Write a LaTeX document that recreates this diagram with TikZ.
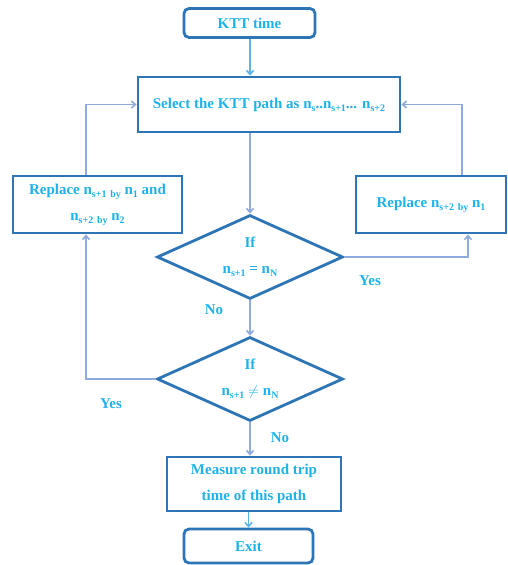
\documentclass[tikz,border=0pt]{standalone}
\usepackage{fontspec}
\setmainfont{Liberation Serif}
\usetikzlibrary{shapes.geometric,arrows.meta}
\definecolor{boxblue}{HTML}{2E75B6}
\definecolor{txtcyan}{HTML}{1FB2EA}
\definecolor{linkblue}{HTML}{8FAADC}
\definecolor{arrcyan}{HTML}{5AB4E6}
% small lowered text used for indices and the word "by"
\newcommand\lowsub[1]{\raisebox{-0.45ex}{\fontsize{10}{10}\selectfont #1}}
\begin{document}
\begin{tikzpicture}[x=1pt,y=-1pt,
  font=\fontsize{15}{26}\selectfont\bfseries, text=txtcyan,
  procbox/.style={draw=boxblue, line width=2.8pt, fill=white, inner sep=0pt, align=center},
  termbox/.style={procbox, rounded corners=5pt},
  decision/.style={diamond, draw=boxblue, line width=2.8pt, fill=white,
    minimum width=186pt, minimum height=84pt, inner sep=0pt},
  link/.style={draw=linkblue, line width=1.6pt},
  cyanlink/.style={draw=arrcyan, line width=1.6pt},
  tip/.style={-{Straight Barb[length=4pt,width=7pt]}},
  lbl/.style={inner sep=0pt, align=center}]
\useasboundingbox (0,0) rectangle (508,565);

% process and terminal boxes
\node[termbox, minimum width=131pt, minimum height=29pt] (start) at (249.5,23) {KTT time};
\node[procbox, minimum width=262pt, minimum height=55pt] (select) at (269,104.5)
  {Select the KTT path as n\lowsub{s}..n\lowsub{s+1}... n\lowsub{s+2}};
\node[procbox, minimum width=169pt, minimum height=57pt] (left) at (97.5,204.5)
  {Replace n\lowsub{s+1} \lowsub{by} n\lowsub{1} and\\ n\lowsub{s+2} \lowsub{by} n\lowsub{2}};
\node[procbox, minimum width=150pt, minimum height=57pt] (right) at (431,204.5)
  {Replace n\lowsub{s+2} \lowsub{by} n\lowsub{1}};

% decisions: outline and its two-line question
\node[decision] (d1) at (250,257) {};
\node[lbl] (q1) at (d1.center) {If\\ n\lowsub{s+1} = n\lowsub{N}};
\node[decision] (d2) at (250,379) {};
\node[lbl] (q2) at (d2.center) {If\\ n\lowsub{s+1} $\neq$ n\lowsub{N}};

\node[procbox, minimum width=174pt, minimum height=54pt] (measure) at (254,484)
  {Measure round trip\\ time of this path};
\node[termbox, minimum width=129pt, minimum height=34pt] (exit) at (248.5,546) {Exit};

% corner points of the loop-back connectors
\coordinate (lt) at (86,104.5);
\coordinate (lb) at (86,379);
\coordinate (rt) at (462,104.5);
\coordinate (rb) at (468,257);

% connectors
\draw[cyanlink, tip] (start.south -| 250,0) -- (select.north -| 250,0);
\draw[link, tip] (select.south -| d1.north) -- (d1.north);
\draw[link, tip] (d1.south) -- (d2.north);
\draw[link, tip] (d2.south) -- (measure.north -| d2.south);
\draw[cyanlink, tip] (measure.south -| exit.north) -- (exit.north);
\draw[link, tip] (d1.east) -- (rb) -- (right.south -| rb);
\draw[link, tip] (right.north -| rt) -- (rt) -- (select.east);
\draw[link, tip] (d2.west) -- (lb) -- (left.south -| lb);
\draw[link, tip] (left.north -| lt) -- (lt) -- (select.west);

% branch labels
\node[lbl] (yes1) at (370,281) {Yes};
\node[lbl] (yes2) at (111,404) {Yes};
\node[lbl] (no1) at (214,310) {No};
\node[lbl] (no2) at (280,438) {No};
\end{tikzpicture}
\end{document}
